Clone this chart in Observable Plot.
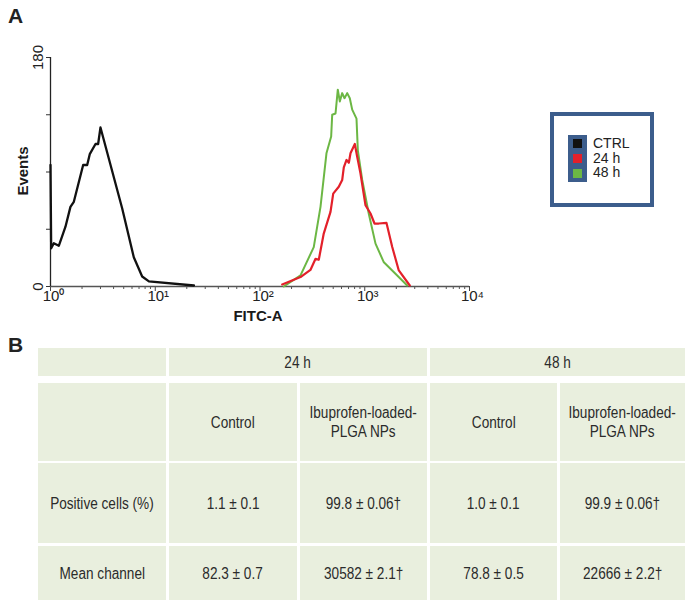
<!DOCTYPE html>
<html>
<head>
<meta charset="utf-8">
<script src="https://cdn.jsdelivr.net/npm/d3@7"></script>
<script src="https://cdn.jsdelivr.net/npm/@observablehq/plot@0.6"></script>
<style>
  html, body { margin: 0; padding: 0; background: #fff; }
  #page { position: relative; width: 692px; height: 608px; overflow: hidden; font-family: "Liberation Sans", Arial, sans-serif; color: #2a2a2a; }
  .panel { position: absolute; font-weight: bold; font-size: 21px; color: #222; }
  #chart { position: absolute; left: 0; top: 0; }
  #legend { position: absolute; left: 550px; top: 112px; width: 96px; height: 87px; border: 4px solid #3c5d8c; }
  #legend .inner { position: absolute; left: 14px; top: 19px; width: 19px; height: 47px; background: #3c5d8c; }
  #legend .sw { position: absolute; left: 5px; width: 9px; height: 9px; }
  #legend .lab { position: absolute; left: 39px; font-size: 14px; line-height: 14px; color: #222; }
  .cell { position: absolute; background: #e9efde; display: flex; align-items: center; justify-content: center; text-align: center; font-family: "Liberation Sans", Arial, sans-serif; font-size: 16px; line-height: 19px; color: #2b2b2b; }
  .cell span { display: inline-block; transform: scaleX(0.85); white-space: pre; }
</style>
</head>
<body>
<div id="page">
  <div class="panel" style="left:8px; top:4px;">A</div>
  <div id="chart"></div>
  <div id="legend"></div>
  <div class="panel" style="left:8px; top:333px;">B</div>
  <div id="table"></div>
</div>
<script>
// ---- Panel A data (FITC-A fluorescence vs events) ----
const ctrlX = [1.0, 1.015, 1.076, 1.2, 1.39, 1.55, 1.67, 2.05, 2.24, 2.37, 2.69, 2.85, 3.0, 4.83, 6.24, 7.5, 8.7, 23.4];
const ctrlY = [95.5, 30, 34, 32, 47, 62.6, 66.6, 95.5, 95.5, 104, 112, 112, 125, 61.5, 23, 7.9, 4, 0.8];

const h24X = [163, 243.6, 303, 339, 364, 406, 471, 500, 565, 609, 631, 670, 705, 731, 804, 847, 910, 1016, 1135, 1239, 1362, 1613, 1830, 2114, 2692];
const h24Y = [1.6, 7.4, 13, 21.8, 21, 41.6, 58.7, 73, 78.4, 83.7, 93.7, 99.5, 97.3, 104.7, 112, 102, 89, 64, 57.4, 49.5, 49.5, 50, 31, 12.6, 0.8];

const h48X = [168.7, 243.6, 326, 378, 431, 478, 489, 526, 553, 578, 609, 641, 680, 720, 759, 834, 859, 946, 1094, 1267, 1522, 2042, 2543];
const h48Y = [0, 8.7, 31, 62.6, 104.7, 117.9, 135, 136, 154.7, 145.5, 152, 148, 152, 148, 139, 132, 107, 83.7, 57, 33.7, 19, 8.7, 0.8];

const seriesNames = ["CTRL", "24 h", "48 h"];
const seriesColors = ["#111111", "#e3202a", "#6cb744"];

const xMajorTicks = [1, 10, 100, 1000, 10000];
const xMajorLabels = ["10\u2070", "10\u00b9", "10\u00b2", "10\u00b3", "10\u2074"];
const xMinorTicks = [2,3,4,5,6,7,8,9,20,30,40,50,60,70,80,90,200,300,400,500,600,700,800,900,2000,3000,4000,5000,6000,7000,8000,9000];
const yTicks = [0, 45, 90, 135, 180];
const yLabeled = [0, 180];
const xTitle = "FITC-A";
const yTitle = "Events";

// ---- Panel B data (table) ----
const timeHeaders = ["24 h", "48 h"];
const groupHeaders = ["Control", "Ibuprofen-loaded-\nPLGA NPs", "Control", "Ibuprofen-loaded-\nPLGA NPs"];
const rowLabels = ["Positive cells (%)", "Mean channel"];
const positiveCells = ["1.1 \u00b1 0.1", "99.8 \u00b1 0.06\u2020", "1.0 \u00b1 0.1", "99.9 \u00b1 0.06\u2020"];
const meanChannel = ["82.3 \u00b1 0.7", "30582 \u00b1 2.1\u2020", "78.8 \u00b1 0.5", "22666 \u00b1 2.2\u2020"];

// build tidy table for Plot
const toRows = (xs, ys, name) => xs.map((x, i) => ({x, y: ys[i], series: name}));
const ctrl = toRows(ctrlX, ctrlY, seriesNames[0]);
const h24 = toRows(h24X, h24Y, seriesNames[1]);
const h48 = toRows(h48X, h48Y, seriesNames[2]);

const chart = Plot.plot({
  width: 692,
  height: 330,
  marginLeft: 50,
  marginRight: 223,
  marginTop: 57,
  marginBottom: 44,
  style: {fontFamily: "'Liberation Sans', Arial, sans-serif", fontSize: "14px", color: "#222", background: "transparent"},
  x: {type: "log", domain: [1, 10000]},
  y: {domain: [0, 180]},
  marks: [
    Plot.axisX({ticks: xMinorTicks, tickSize: 3, tickFormat: () => "", stroke: "#555", label: null}),
    Plot.axisX({ticks: xMajorTicks, tickSize: 5, tickFormat: () => "", stroke: "#444", label: null}),
    Plot.text(xMajorTicks, {x: d => d, y: 0, text: (d, i) => xMajorLabels[i], lineAnchor: "top", dy: 4, dx: 3, fontSize: 15, fill: "#222", textAnchor: "middle"}),
    Plot.axisY({ticks: yTicks, tickSize: 4, tickFormat: () => "", stroke: "#333", label: null}),
    Plot.text(yLabeled, {x: 1, y: d => d, text: d => String(d), rotate: -90, dx: -12, fontSize: 15, fill: "#222", textAnchor: "middle"}),
    Plot.ruleY([0], {stroke: "#555", strokeWidth: 1.3}),
    Plot.ruleX([1], {stroke: "#222", strokeWidth: 1.3}),
    Plot.line(ctrl, {x: "x", y: "y", stroke: seriesColors[0], strokeWidth: 2.3}),
    Plot.line(h48, {x: "x", y: "y", stroke: seriesColors[2], strokeWidth: 2}),
    Plot.line(h24, {x: "x", y: "y", stroke: seriesColors[1], strokeWidth: 2.2})
  ]
});
// axis titles
const svg = d3.select(chart);
svg.append("text").attr("x", 258).attr("y", 321).attr("text-anchor", "middle")
  .attr("font-weight", "bold").attr("font-size", 15).attr("fill", "#1a1a1a").text(xTitle);
svg.append("text").attr("transform", "translate(28,171) rotate(-90)").attr("text-anchor", "middle")
  .attr("font-weight", "bold").attr("font-size", 15).attr("fill", "#1a1a1a").text(yTitle);
document.getElementById("chart").appendChild(chart);

// legend
const legend = document.getElementById("legend");
const inner = document.createElement("div");
inner.className = "inner";
legend.appendChild(inner);
seriesNames.forEach((name, i) => {
  const sw = document.createElement("div");
  sw.className = "sw";
  sw.style.top = (4 + i * 15) + "px";
  sw.style.background = seriesColors[i];
  inner.appendChild(sw);
  const lab = document.createElement("div");
  lab.className = "lab";
  lab.style.top = (20 + i * 14.5) + "px";
  lab.textContent = name;
  legend.appendChild(lab);
});

// table
const colEdges = [[38,166],[169,297],[300,427],[430,557],[560,685]];
const rowEdges = [[348,376],[383,461],[463,543],[546,600]];
const tbl = document.getElementById("table");
function cell(c0, c1, r, txt) {
  const d = document.createElement("div");
  d.className = "cell";
  d.style.left = colEdges[c0][0] + "px";
  d.style.width = (colEdges[c1][1] - colEdges[c0][0]) + "px";
  d.style.top = rowEdges[r][0] + "px";
  d.style.height = (rowEdges[r][1] - rowEdges[r][0]) + "px";
  const s = document.createElement("span");
  s.textContent = txt;
  d.appendChild(s);
  tbl.appendChild(d);
}
cell(0, 0, 0, "");
cell(1, 2, 0, timeHeaders[0]);
cell(3, 4, 0, timeHeaders[1]);
cell(0, 0, 1, "");
groupHeaders.forEach((g, i) => cell(i + 1, i + 1, 1, g));
cell(0, 0, 2, rowLabels[0]);
positiveCells.forEach((v, i) => cell(i + 1, i + 1, 2, v));
cell(0, 0, 3, rowLabels[1]);
meanChannel.forEach((v, i) => cell(i + 1, i + 1, 3, v));
</script>
</body>
</html>
